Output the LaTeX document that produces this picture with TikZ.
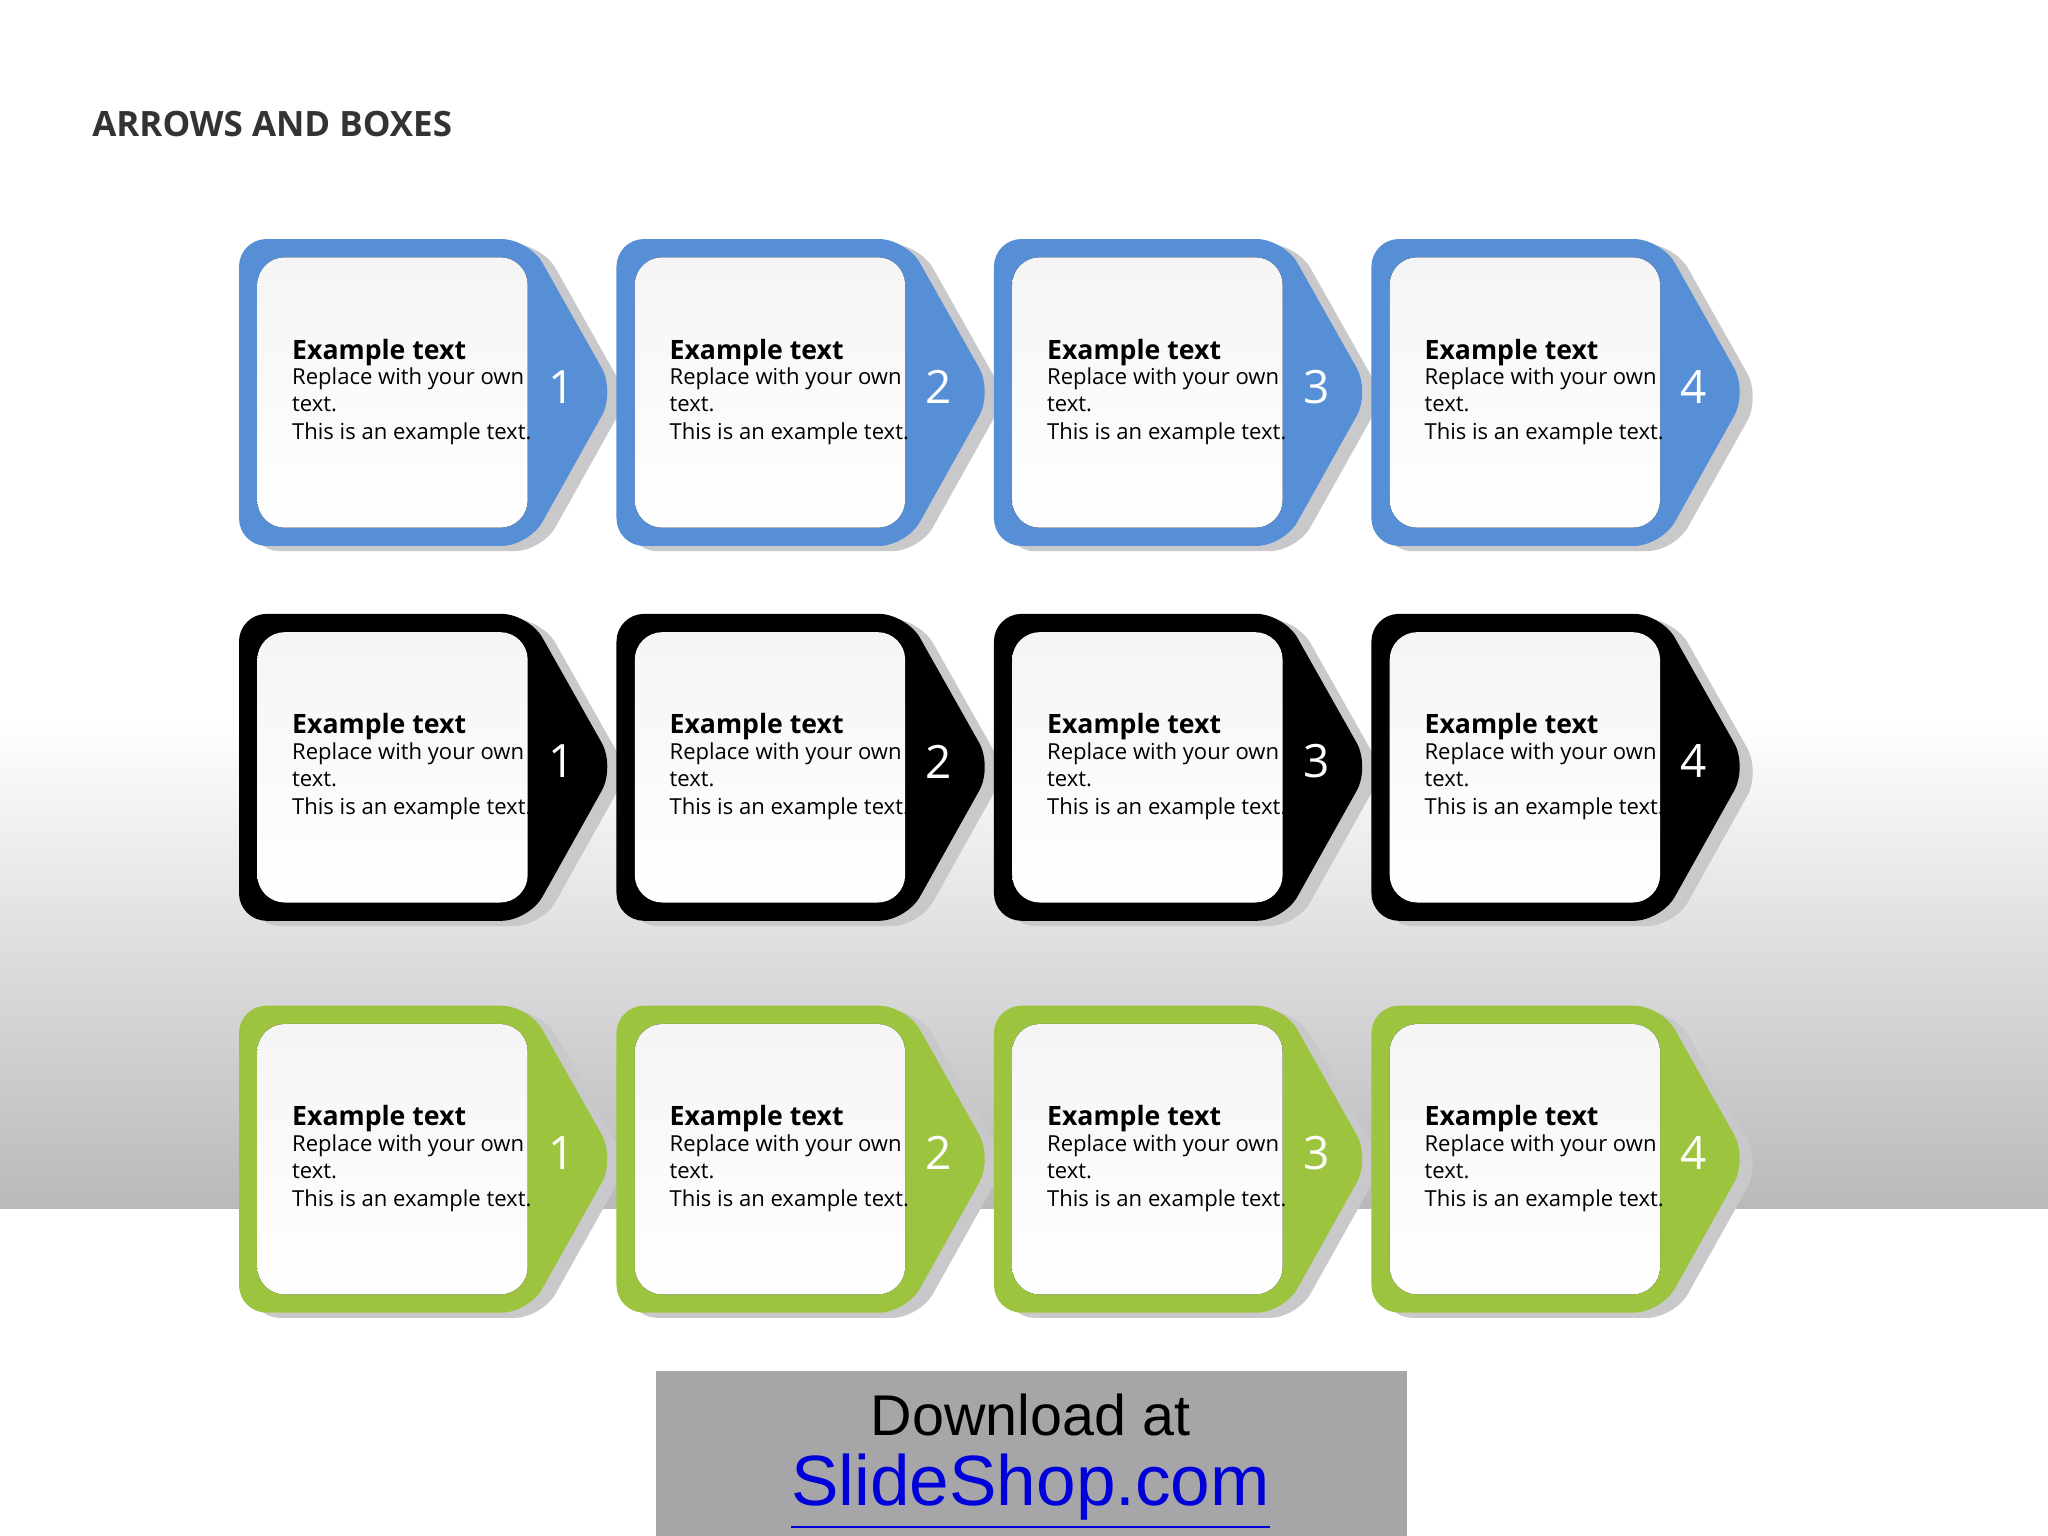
\documentclass[tikz,border=0pt]{standalone}
\usepackage{fontspec}
\setmainfont{Open Sans}
\newfontfamily\arialf{Liberation Sans}
\begin{document}
\begin{tikzpicture}[x=0.01cm,y=-0.01cm,
  outer/.style={rounded corners=22pt*0.2845},
  inner/.style={rounded corners=6pt, top color=gray!8, bottom color=white},
  shadowc/.style={fill=shad},
  num/.style={text=white, font=\fontsize{10}{12}\selectfont},
  body/.style={anchor=west, align=left, font=\fontsize{4.8}{6}\selectfont, text=black, inner sep=0pt}]
\definecolor{cblue}{HTML}{568FD6}
\definecolor{cgreen}{HTML}{9DC43E}
\definecolor{shad}{HTML}{C9C9CB}
\definecolor{bgray}{HTML}{A6A6A8}
\useasboundingbox (0,0) rectangle (1568,1176);
\fill[white] (0,0) rectangle (1568,1176);
\shade[top color=white, bottom color=gray!55] (0,550) rectangle (1568,925);
\node[anchor=west, font=\bfseries\fontsize{7.6}{9}\selectfont, text=black!80, inner sep=0pt] (title) at (70,95) {ARROWS AND BOXES};
\foreach \r/\yy/\col in {1/183/cblue, 2/470/black, 3/770/cgreen}{
  \foreach \c in {1,2,3,4}{
    \pgfmathsetmacro{\xx}{183+289*(\c-1)}
    \begin{scope}[shift={(\xx,\yy)}]
      \fill[shad, rounded corners=6pt] (10,4) -- (232,4) -- (298,121) -- (232,239) -- (10,239) -- cycle;
      \fill[\col, rounded corners=6pt] (0,0) -- (222,0) -- (288,117) -- (222,235) -- (0,235) -- cycle;
      \fill[inner] (14,14) rectangle (221,221);
      \node[num] (n\r\c) at (247,113) {\c};
      \node[body] (t\r\c) at (40,117) {{\bfseries\fontsize{5.8}{7}\selectfont Example text}\\[-0.5pt]Replace with your own\\text.\\This is an example text.};
    \end{scope}
  }
}
\fill[bgray] (502,1050) rectangle (1077,1176);
\node[font=\arialf\fontsize{12.5}{14}\selectfont, text=black] (dl) at (789,1083) {Download at};
\node[font=\arialf\fontsize{15.5}{18}\selectfont, text=blue!85!black] (ss) at (789,1142) {\underline{SlideShop.com}};
\end{tikzpicture}
\end{document}
